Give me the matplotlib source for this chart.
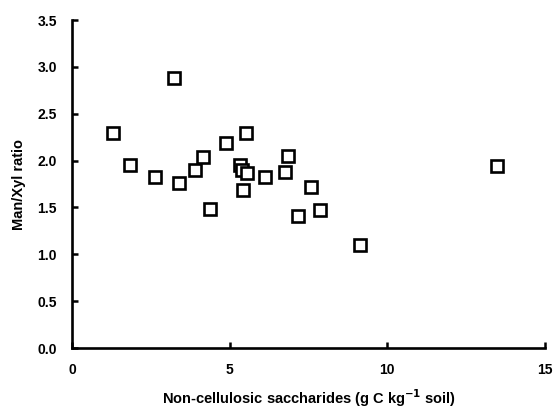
import matplotlib
matplotlib.use("Agg")
import matplotlib.pyplot as plt

x_vals = [1.31, 3.24, 1.84, 2.62, 3.38, 3.89, 4.17, 4.38, 4.88, 5.51, 5.33, 5.40,
          5.55, 5.42, 6.11, 6.86, 6.77, 7.16, 7.58, 7.85, 9.12, 13.48]
y_vals = [2.29, 2.88, 1.95, 1.83, 1.76, 1.90, 2.04, 1.48, 2.19, 2.29, 1.95, 1.90,
          1.87, 1.69, 1.82, 2.05, 1.88, 1.41, 1.72, 1.47, 1.10, 1.94]
x_ticks = [0, 5, 10, 15]
y_ticks = [0.0, 0.5, 1.0, 1.5, 2.0, 2.5, 3.0, 3.5]

plt.rcParams['font.family'] = ['Liberation Sans', 'DejaVu Sans']
plt.rcParams['font.weight'] = 'bold'

fig = plt.figure(figsize=(5.56, 4.17), dpi=100)
ax = fig.add_axes([72/556, 1-348/417, (545-72)/556, (348-20)/417])

ax.plot(x_vals, y_vals, linestyle='none', marker='s', markersize=8.6,
        markerfacecolor='white', markeredgecolor='black', markeredgewidth=1.9,
        clip_on=False)

ax.set_xlim(0, 15)
ax.set_ylim(0, 3.5)
ax.set_xticks(x_ticks)
ax.set_xticklabels([str(v) for v in x_ticks])
ax.set_yticks(y_ticks)
ax.set_yticklabels([f"{v:.1f}" for v in y_ticks])

for s in ['top', 'right']:
    ax.spines[s].set_visible(False)
for s in ['left', 'bottom']:
    ax.spines[s].set_linewidth(1.9)

ax.tick_params(direction='in', length=4, width=1.8, labelsize=10, pad=11)
for lab in ax.get_xticklabels() + ax.get_yticklabels():
    lab.set_fontweight('bold')

ax.set_xlabel('Non-cellulosic saccharides (g C kg$^{\\mathbf{-1}}$ soil)',
              fontsize=10.5, fontweight='bold', labelpad=7)
ax.set_ylabel('Man/Xyl ratio', fontsize=10.5, fontweight='bold', labelpad=8)

fig.savefig('out.png', dpi=100)
